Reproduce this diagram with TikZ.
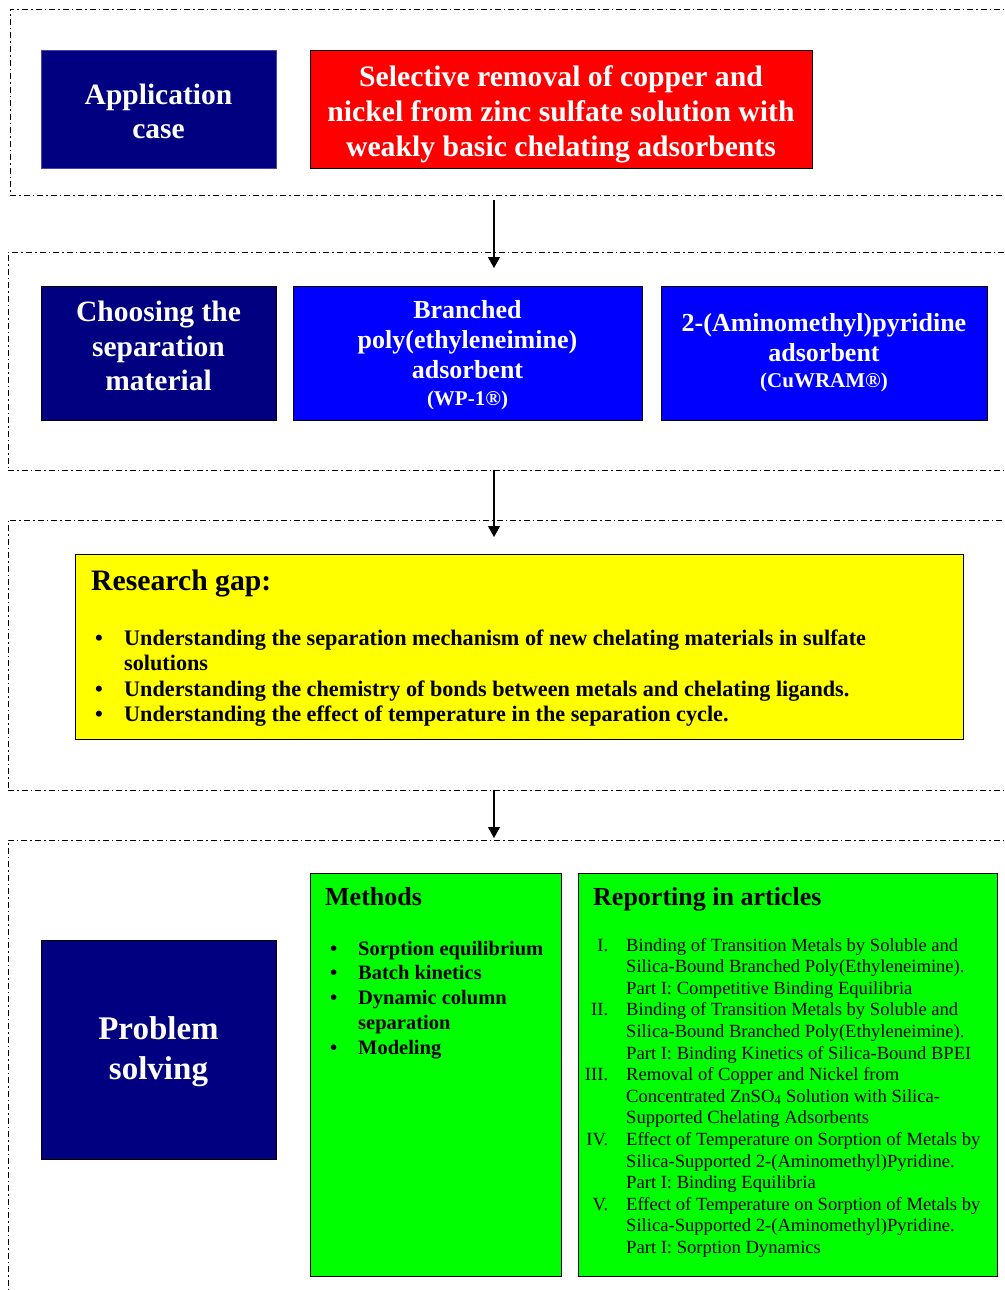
\documentclass[tikz,border=0pt]{standalone}
\usepackage{fontspec}
\setmainfont{Liberation Serif}
\usetikzlibrary{arrows.meta, positioning}
\definecolor{navyfill}{RGB}{0,0,128}
\definecolor{navyedge}{RGB}{70,70,170}
\definecolor{pureblue}{RGB}{0,0,255}
\definecolor{purered}{RGB}{255,0,0}
\definecolor{pureyellow}{RGB}{255,255,0}
\definecolor{puregreen}{RGB}{0,255,0}
\newcommand{\fsz}[2]{\fontsize{#1}{#2}\selectfont}
\newcommand{\artno}[1]{\makebox[26pt][r]{#1}}

\begin{document}
\begin{tikzpicture}[x=1pt, y=-1pt]
    \tikzset{
        stageframe/.style={draw, line width=1pt, dash pattern=on 6pt off 3pt on 1.5pt off 3pt,
            anchor=north west, inner sep=0pt, outer sep=0pt},
        panel/.style={draw, line width=0.8pt, anchor=north west, inner sep=0pt, outer sep=0pt, align=center},
        titlebox/.style={panel, fill=navyfill, text=white, font=\bfseries\fsz{29.5}{34.5}},
        matbox/.style={panel, fill=pureblue, text=white, font=\bfseries\fsz{26}{30}},
        greenbox/.style={panel, fill=puregreen},
        flow/.style={line width=1.3pt, -{Triangle[length=11pt, width=12pt]}}
    }
    \path[use as bounding box, clip] (0,0) rectangle (1004,1290);

    % dash-dot stage frames
    \node[stageframe, minimum width=1010pt, minimum height=185pt] (stage1) at (10,10) {};
    \node[stageframe, minimum width=1010pt, minimum height=218pt] (stage2) at (8,252) {};
    \node[stageframe, minimum width=1010pt, minimum height=270pt] (stage3) at (8,520) {};
    \node[stageframe, minimum width=1010pt, minimum height=470pt] (stage4) at (8,840) {};

    % application case
    \node[titlebox, draw=navyedge, text height=59.5pt, minimum width=235pt, minimum height=118pt] (appcase) at (41,50)
        {Application\\case};
    \node[panel, fill=purered, text=white, font=\bfseries\fsz{29.7}{35}, text height=101pt,
        minimum width=502pt, minimum height=118pt] (removal) at (310,50)
        {Selective removal of copper and\\nickel from zinc sulfate solution with\\weakly basic chelating adsorbents};

    % separation material
    \node[titlebox, text depth=14pt, minimum width=235pt, minimum height=134pt] (choosing) at (41,286)
        {Choosing the\\separation\\material};
    \node[matbox, text depth=0pt, minimum width=349pt, minimum height=134pt] (bpei) at (293,286)
        {Branched\\poly(ethyleneimine)\\adsorbent\\[-3.5pt]{\fsz{21}{26}(WP-1®)}};
    \node[matbox, minimum width=326pt, minimum height=134pt] (amp) at (661,286)
        {2-(Aminomethyl)pyridine\\adsorbent\\[-4pt]{\fsz{21}{26}(CuWRAM®)}};

    % research gap
    \node[panel, fill=pureyellow, minimum width=888pt, minimum height=185pt] (gap) at (75,554) {};
    \node[anchor=base west, inner sep=0pt, font=\bfseries\fsz{29.7}{32}]
        (gaphead) at ([xshift=16pt, yshift=-36pt]gap.north west) {Research gap:};
    \node[anchor=base west, inner sep=0pt, font=\bfseries\fsz{22.2}{25.6}]
        (gaplist) at ([xshift=20pt, yshift=-91pt]gap.north west) {%
        \begin{tabular}[t]{@{}p{29pt}@{}l@{}}
        \textbullet & Understanding the separation mechanism of new chelating materials in sulfate\\
                    & solutions\\
        \textbullet & Understanding the chemistry of bonds between metals and chelating ligands.\\
        \textbullet & Understanding the effect of temperature in the separation cycle.
        \end{tabular}};

    % problem solving
    \node[titlebox, font=\bfseries\fsz{33}{40}, text height=67.3pt, minimum width=235pt, minimum height=219pt]
        (problem) at (41,940) {Problem\\solving};
    \node[greenbox, minimum width=251pt, minimum height=403pt] (methods) at (310,873) {};
    \node[anchor=base west, inner sep=0pt, font=\bfseries\fsz{26}{30}]
        (methhead) at ([xshift=15pt, yshift=-32pt]methods.north west) {Methods};
    \node[anchor=base west, inner sep=0pt, font=\bfseries\fsz{20.5}{24.8}]
        (methlist) at ([xshift=20pt, yshift=-82pt]methods.north west) {%
        \begin{tabular}[t]{@{}p{28pt}@{}l@{}}
        \textbullet & Sorption equilibrium\\
        \textbullet & Batch kinetics\\
        \textbullet & Dynamic column\\
                    & separation\\
        \textbullet & Modeling
        \end{tabular}};
    \node[greenbox, minimum width=419pt, minimum height=403pt] (reports) at (578,873) {};
    \node[anchor=base west, inner sep=0pt, font=\bfseries\fsz{26}{30}]
        (rephead) at ([xshift=15pt, yshift=-32pt]reports.north west) {Reporting in articles};
    \node[anchor=base west, inner sep=0pt, font=\fsz{18.6}{21.6}]
        (replist) at ([xshift=4pt, yshift=-78pt]reports.north west) {%
        \begin{tabular}[t]{@{}l@{\hspace{18pt}}l@{}}
        \artno{I.}   & Binding of Transition Metals by Soluble and\\
                     & Silica-Bound Branched Poly(Ethyleneimine).\\
                     & Part I: Competitive Binding Equilibria\\
        \artno{II.}  & Binding of Transition Metals by Soluble and\\
                     & Silica-Bound Branched Poly(Ethyleneimine).\\
                     & Part I: Binding Kinetics of Silica-Bound BPEI\\
        \artno{III.} & Removal of Copper and Nickel from\\
                     & Concentrated ZnSO\textsubscript{4} Solution with Silica-\\
                     & Supported Chelating Adsorbents\\
        \artno{IV.}  & Effect of Temperature on Sorption of Metals by\\
                     & Silica-Supported 2-(Aminomethyl)Pyridine.\\
                     & Part I: Binding Equilibria\\
        \artno{V.}   & Effect of Temperature on Sorption of Metals by\\
                     & Silica-Supported 2-(Aminomethyl)Pyridine.\\
                     & Part I: Sorption Dynamics
        \end{tabular}};

    % arrows between stages
    \coordinate (flow1s) at (494,200);
    \coordinate (flow1e) at (494,268);
    \coordinate (flow2s) at (494,470);
    \coordinate (flow2e) at (494,537);
    \coordinate (flow3s) at (494,790);
    \coordinate (flow3e) at (494,838);
    \draw[flow] (flow1s) -- (flow1e);
    \draw[flow] (flow2s) -- (flow2e);
    \draw[flow] (flow3s) -- (flow3e);
\end{tikzpicture}
\end{document}
